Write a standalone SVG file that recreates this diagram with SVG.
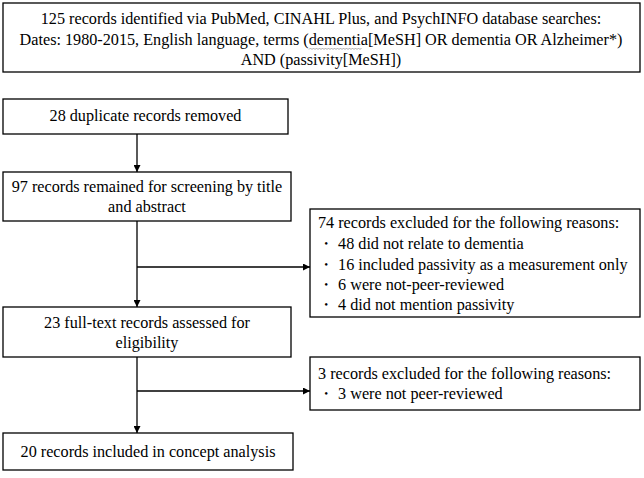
<svg xmlns="http://www.w3.org/2000/svg" width="644" height="478" viewBox="0 0 644 478">
<defs>
<marker id="ah" viewBox="0 0 10 10" refX="10" refY="5" markerWidth="7" markerHeight="7" markerUnits="userSpaceOnUse" orient="auto">
<path d="M0,0 L10,5 L0,10 Z" fill="#000"/>
</marker>
<style>
.box{fill:#fff;stroke:#000;stroke-width:1.3}
.t{font-family:'Liberation Serif',serif;font-size:16.2px;fill:#000}
.c{text-anchor:middle}
.ln{fill:none;stroke:#000;stroke-width:1.3}
</style>
</defs>
<rect width="644" height="478" fill="#fff"/>
<g id="n1">
<rect class="box" x="3" y="3" width="637" height="69"/>
<text class="t c" x="321" y="24">125 records identified via PubMed, CINAHL Plus, and PsychINFO database searches:</text>
<text class="t c" x="321" y="45">Dates: 1980-2015, English language, terms (dementia[MeSH] OR dementia OR Alzheimer*)</text>
<text class="t c" x="321" y="65">AND (passivity[MeSH])</text>
<path d="M309,49.5 l1.5,-1.5 l1.5,1.5 l1.5,-1.5 l1.5,1.5 l1.5,-1.5 l1.5,1.5 l1.5,-1.5 l1.5,1.5 l1.5,-1.5 l1.5,1.5 l1.5,-1.5 l1.5,1.5 l1.5,-1.5 l1.5,1.5 l1.5,-1.5 l1.5,1.5 l1.5,-1.5 l1.5,1.5 l1.5,-1.5 l1.5,1.5 l1.5,-1.5 l1.5,1.5 l1.5,-1.5 l1.5,1.5 l1.5,-1.5 l1.5,1.5 l1.5,-1.5 l1.5,1.5 l1.5,-1.5 l1.5,1.5 l1.5,-1.5 l1.5,1.5 l1.5,-1.5 l1.5,1.5 l1.5,-1.5" fill="none" stroke="#888" stroke-width="0.7"/>
</g>
<g id="n2">
<rect class="box" x="3" y="99" width="285" height="35"/>
<text class="t c" x="145.5" y="121">28 duplicate records removed</text>
</g>
<g id="n3">
<rect class="box" x="3" y="172" width="288" height="49"/>
<text class="t c" x="147" y="192">97 records remained for screening by title</text>
<text class="t c" x="147" y="212">and abstract</text>
</g>
<g id="n4">
<rect class="box" x="310" y="209" width="330" height="108"/>
<text class="t" x="318" y="228">74 records excluded for the following reasons:</text>
<text class="t" x="318" y="249">・ 48 did not relate to dementia</text>
<text class="t" x="318" y="270">・ 16 included passivity as a measurement only</text>
<text class="t" x="318" y="290">・ 6 were not-peer-reviewed</text>
<text class="t" x="318" y="310">・ 4 did not mention passivity</text>
</g>
<g id="n5">
<rect class="box" x="3" y="307" width="288" height="50"/>
<text class="t c" x="147" y="328">23 full-text records assessed for</text>
<text class="t c" x="147" y="348">eligibility</text>
</g>
<g id="n6">
<rect class="box" x="310" y="357" width="330" height="53"/>
<text class="t" x="318" y="379">3 records excluded for the following reasons:</text>
<text class="t" x="318" y="399">・ 3 were not peer-reviewed</text>
</g>
<g id="n7">
<rect class="box" x="3" y="433" width="290" height="37"/>
<text class="t c" x="148" y="457">20 records included in concept analysis</text>
</g>
<g id="connectors">
<line class="ln" x1="137" y1="134" x2="137" y2="172" marker-end="url(#ah)"/>
<line class="ln" x1="137" y1="221" x2="137" y2="307" marker-end="url(#ah)"/>
<line class="ln" x1="137" y1="267" x2="310" y2="267" marker-end="url(#ah)"/>
<line class="ln" x1="137" y1="357" x2="137" y2="433" marker-end="url(#ah)"/>
<line class="ln" x1="137" y1="391" x2="310" y2="391" marker-end="url(#ah)"/>
</g>
</svg>
